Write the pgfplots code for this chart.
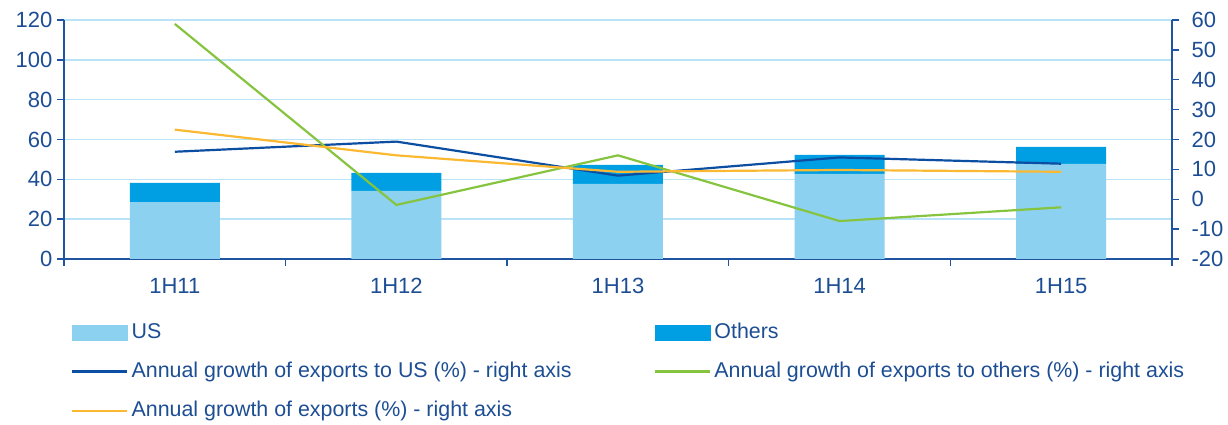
\documentclass[border=0pt]{standalone}
\usepackage{pgfplots}
\pgfplotsset{compat=1.18}
\usepackage{fontspec}
\setmainfont{Liberation Sans}
\definecolor{usbar}{HTML}{8DD1F1}
\definecolor{othbar}{HTML}{009FE3}
\definecolor{lnblue}{HTML}{0B4EA2}
\definecolor{lngreen}{HTML}{86C43F}
\definecolor{lnorange}{HTML}{FBB933}
\definecolor{gridc}{HTML}{B9E4F7}
\definecolor{axc}{HTML}{1F55A0}
\definecolor{txt}{HTML}{1D4E94}
\newcommand{\lfont}{\fontsize{10.7}{12}\selectfont}
\newcommand{\tfont}{\fontsize{11}{12}\selectfont}
\pgfplotsset{
  common/.style={
    at={(32pt,82.5pt)}, anchor=south west, scale only axis,
    width=554pt, height=119.5pt,
    xmin=0, xmax=5,
    axis line style={axc, line width=0.7pt},
    tick style={axc, line width=0.7pt},
    major tick length=3.3pt, tick align=outside,
    every tick label/.append style={font=\tfont, text=txt},
    /pgf/number format/assume math mode=true,
  }
}
\begin{document}
\begin{tikzpicture}
\path[use as bounding box] (0,0) rectangle (614pt,212pt);
\begin{axis}[common,
  ymin=0, ymax=120, ytick={0,20,...,120},
  yticklabel style={xshift=1pt},
  xtick={0,1,2,3,4,5}, xticklabels={},
  extra x ticks={0.5,1.5,2.5,3.5,4.5},
  extra x tick labels={1H11,1H12,1H13,1H14,1H15},
  extra x tick style={major tick length=0pt, tick label style={yshift=-6pt}},
  ymajorgrids, grid style={gridc, line width=0.7pt},
  axis x line*=bottom, axis y line*=left,
  ybar stacked, bar width=45pt,
]
\addplot[fill=usbar, draw=none] coordinates {(0.5,28.5) (1.5,34.2) (2.5,37.7) (3.5,42.7) (4.5,47.7)};
\addplot[fill=othbar, draw=none] coordinates {(0.5,9.7) (1.5,9.0) (2.5,9.5) (3.5,9.6) (4.5,8.6)};
\end{axis}
\begin{axis}[common,
  ymin=-20, ymax=60, ytick={-20,-10,...,60},
  yticklabel style={xshift=3pt},
  axis x line=none, axis y line*=right,
  legend columns=2,
  legend style={at={(axis description cs:0.0063,-0.25)}, anchor=north west,
    draw=none, fill=none, inner sep=0pt, font=\lfont, text=txt,
    row sep=6.3pt, /tikz/column 2/.style={column sep=39.8pt},
    nodes={inner xsep=1.5pt}},
  legend cell align=left,
  legend image code/.code={\draw[#1] (0pt,0pt) -- (27.5pt,0pt);},
]
\addlegendimage{legend image code/.code={\fill[usbar] (0pt,-3.75pt) rectangle (27.5pt,3.75pt);}}
\addlegendentry{US}
\addlegendimage{legend image code/.code={\fill[othbar] (0pt,-3.75pt) rectangle (27.5pt,3.75pt);}}
\addlegendentry{Others}
\addplot[lnblue, line width=1.1pt] coordinates {(0.5,15.9) (1.5,19.3) (2.5,7.9) (3.5,14.0) (4.5,11.9)};
\addlegendentry{Annual growth of exports to US (\%) - right axis}
\addplot[lngreen, line width=1.1pt] coordinates {(0.5,58.7) (1.5,-1.9) (2.5,14.7) (3.5,-7.3) (4.5,-2.7)};
\addlegendentry{Annual growth of exports to others (\%) - right axis}
\addplot[lnorange, line width=1.1pt] coordinates {(0.5,23.3) (1.5,14.7) (2.5,9.2) (3.5,9.8) (4.5,9.2)};
\addlegendentry{Annual growth of exports (\%) - right axis}
\end{axis}
\end{tikzpicture}
\end{document}
